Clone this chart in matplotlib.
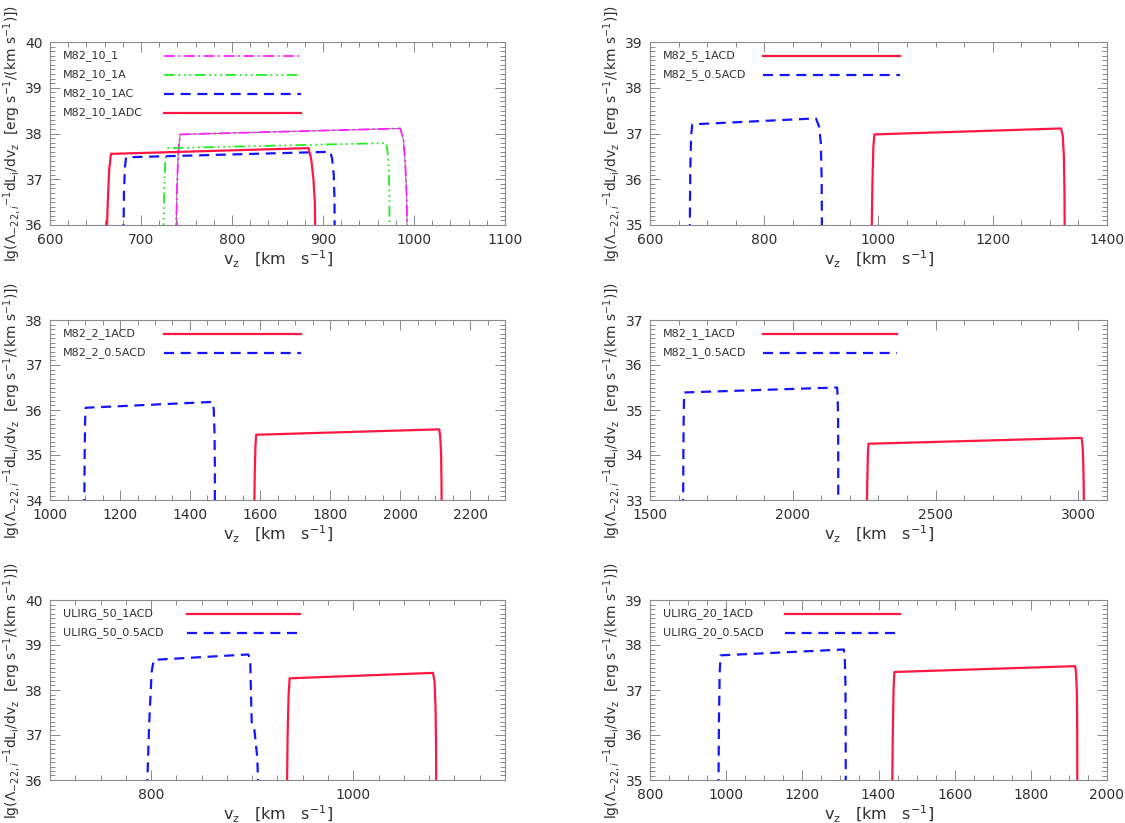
import numpy as np
import matplotlib
matplotlib.use("Agg")
import matplotlib.pyplot as plt
from matplotlib.ticker import MultipleLocator

plt.rcParams['font.family'] = ['DejaVu Sans']
plt.rcParams['mathtext.fontset'] = 'dejavusans'

# ---------------- data ----------------
# Panel 1: M82_10 models
p1_names = ["M82_10_1", "M82_10_1A", "M82_10_1AC", "M82_10_1ADC"]
p1_v = [
    [738.6, 739.5, 741.0, 743.0, 985.0, 988.5, 990.5, 992.0, 992.4],
    [724.7, 725.5, 726.8, 728.3, 969.3, 971.0, 972.3, 973.0, 973.0],
    [680.7, 681.3, 682.3, 683.6, 908.0, 910.0, 911.8, 912.6, 912.8],
    [662.3, 663.5, 665.0, 667.0, 884.0, 887.0, 889.5, 891.0, 891.5],
]
p1_y = [
    [35.8, 36.8, 37.6, 37.98, 38.11, 37.85, 37.3, 36.6, 35.8],
    [35.8, 36.8, 37.45, 37.68, 37.79, 37.6, 37.2, 36.6, 35.8],
    [35.8, 36.7, 37.25, 37.48, 37.60, 37.45, 37.1, 36.6, 35.8],
    [35.8, 36.5, 37.2, 37.555, 37.68, 37.45, 37.0, 36.5, 35.8],
]

# Panel 2: M82_5
p2_names = ["M82_5_1ACD", "M82_5_0.5ACD"]
p2_v = [
    [988.0, 989.5, 991.0, 992.8, 1319.6, 1322.5, 1324.5, 1325.5, 1326.0],
    [669.6, 670.5, 672.0, 674.0, 890.5, 896.0, 899.0, 900.5, 901.0],
]
p2_y = [
    [34.8, 36.0, 36.7, 36.98, 37.11, 36.95, 36.5, 35.8, 34.8],
    [34.8, 36.2, 36.95, 37.20, 37.33, 37.15, 36.8, 36.0, 34.8],
]

# Panel 3: M82_2
p3_names = ["M82_2_1ACD", "M82_2_0.5ACD"]
p3_v = [
    [1583.7, 1585.0, 1587.0, 1589.0, 2112.0, 2115.0, 2117.5, 2118.5, 2119.0],
    [1098.0, 1099.0, 1100.5, 1102.0, 1465.0, 1468.0, 1470.0, 1471.0, 1471.0],
]
p3_y = [
    [33.8, 34.6, 35.2, 35.45, 35.57, 35.4, 35.0, 34.4, 33.8],
    [33.8, 35.0, 35.8, 36.05, 36.18, 36.0, 35.5, 34.8, 33.8],
]

# Panel 4: M82_1
p4_names = ["M82_1_1ACD", "M82_1_0.5ACD"]
p4_v = [
    [2259.0, 2261.0, 2263.0, 2265.0, 3011.0, 3014.5, 3017.0, 3018.5, 3019.0],
    [1616.0, 1617.0, 1618.5, 1620.0, 2155.0, 2157.0, 2158.5, 2159.0, 2159.0],
]
p4_y = [
    [32.8, 33.5, 34.05, 34.25, 34.38, 34.2, 33.8, 33.3, 32.8],
    [32.8, 34.2, 35.1, 35.39, 35.50, 35.3, 34.8, 34.0, 32.8],
]

# Panel 5: ULIRG_50
p5_names = ["ULIRG_50_1ACD", "ULIRG_50_0.5ACD"]
p5_v = [
    [934.4, 935.0, 936.0, 937.0, 1078.7, 1080.3, 1081.3, 1081.8, 1082.0],
    [796.0, 798.0, 800.5, 802.6, 896.0, 898.0, 899.5, 902.0, 905.0, 906.0],
]
p5_y = [
    [35.8, 37.0, 37.9, 38.26, 38.38, 38.2, 37.6, 36.8, 35.8],
    [35.8, 37.2, 38.4, 38.67, 38.79, 38.70, 37.25, 37.15, 36.5, 35.8],
]

# Panel 6: ULIRG_20
p6_names = ["ULIRG_20_1ACD", "ULIRG_20_0.5ACD"]
p6_v = [
    [1436.0, 1437.5, 1439.5, 1441.6, 1916.6, 1919.0, 1921.0, 1921.8, 1922.0],
    [979.8, 981.0, 983.0, 985.5, 1309.0, 1311.5, 1313.0, 1313.8, 1314.0],
]
p6_y = [
    [34.8, 36.0, 37.0, 37.40, 37.53, 37.35, 36.9, 36.0, 34.8],
    [34.8, 36.3, 37.4, 37.77, 37.90, 37.7, 37.2, 36.3, 34.8],
]

# axis ranges / ticks
xlims = [(600, 1100), (600, 1400), (1000, 2300), (1500, 3100), (700, 1150), (800, 2000)]
ylims = [(36, 40), (35, 39), (34, 38), (33, 37), (36, 40), (35, 39)]
xmajor = [100, 200, 200, 500, 200, 200]
xminor = [20, 50, 50, 100, 25, 50]

# ---------------- styles ----------------
RED = '#ff1744'
BLUE = '#1414ff'
GREEN = '#22ee22'
MAGENTA = '#ff22ff'
style_red = dict(color=RED, lw=1.6, ls='-')
style_blue = dict(color=BLUE, lw=1.6, ls=(0, (4.5, 3)))
style_green = dict(color=GREEN, lw=1.3, ls=(0, (6, 2, 1, 2, 1, 2, 1, 2)))
style_mag = dict(color=MAGENTA, lw=1.3, ls=(0, (6, 2, 1, 2)))

W, H = 1125, 823
fig = plt.figure(figsize=(W / 100, H / 100), dpi=100)

col_left = [50, 650]
col_width = [455, 457]
row_top = [42, 320, 600]
row_h = [183, 180, 180]

ylabel = r'lg($\Lambda_{-22,i}$$^{-1}$dL$_{\rm i}$/dv$_{\rm z}$  [erg s$^{-1}$/(km s$^{-1}$)])'
xlabel = r'v$_{\rm z}$   [km   s$^{-1}$]'

panels = [
    (p1_names, p1_v, p1_y, [style_mag, style_green, style_blue, style_red]),
    (p2_names, p2_v, p2_y, [style_red, style_blue]),
    (p3_names, p3_v, p3_y, [style_red, style_blue]),
    (p4_names, p4_v, p4_y, [style_red, style_blue]),
    (p5_names, p5_v, p5_y, [style_red, style_blue]),
    (p6_names, p6_v, p6_y, [style_red, style_blue]),
]

# legend line extents in axes-pixel offsets (left, right)
leg_lines = [(114, 251), (113, 250), (114, 251), (113, 247), (137, 250), (135, 250)]

GRAY = '#8a8a8a'
TXT = '#303030'

for i, (names, vs, ys, styles) in enumerate(panels):
    r, c = divmod(i, 2)
    left = col_left[c]
    wpx = col_width[c]
    top = row_top[r]
    hpx = row_h[r]
    ax = fig.add_axes([left / W, 1 - (top + hpx) / H, wpx / W, hpx / H])

    for k, (v, y, st) in enumerate(zip(vs, ys, styles)):
        if i == 0 and k == 0:
            ax.plot(v, y, color='#9a6a9a', lw=0.8, zorder=2)
        ax.plot(v, y, zorder=3, **st)

    ax.set_xlim(*xlims[i])
    ax.set_ylim(*ylims[i])
    ax.xaxis.set_major_locator(MultipleLocator(xmajor[i]))
    ax.xaxis.set_minor_locator(MultipleLocator(xminor[i]))
    ax.yaxis.set_major_locator(MultipleLocator(1))
    ax.yaxis.set_minor_locator(MultipleLocator(0.1))
    ax.tick_params(which='both', direction='in', top=True, right=True,
                   color=GRAY, width=0.7, labelcolor=TXT, labelsize=10)
    ax.tick_params(which='major', length=7)
    ax.tick_params(which='minor', length=3.5)
    ax.tick_params(axis='x', pad=6)
    ax.tick_params(axis='y', pad=5)
    for s in ax.spines.values():
        s.set_color(GRAY)
        s.set_linewidth(0.8)

    ax.set_xlabel(xlabel, fontsize=11.5, color=TXT, labelpad=1)
    ax.set_ylabel(ylabel, fontsize=10, color=TXT, labelpad=1.5)

    # legend samples (text left, line right)
    l0, l1 = leg_lines[i]
    for k, (name, st) in enumerate(zip(names, styles)):
        yy = 1 - (14 + 19 * k) / hpx
        ax.text(13 / wpx, yy, name, transform=ax.transAxes, fontsize=8,
                color=TXT, va='center', ha='left')
        ax.plot([l0 / wpx, l1 / wpx], [yy, yy], transform=ax.transAxes,
                clip_on=False, **st)

fig.savefig('out.png', dpi=100)
